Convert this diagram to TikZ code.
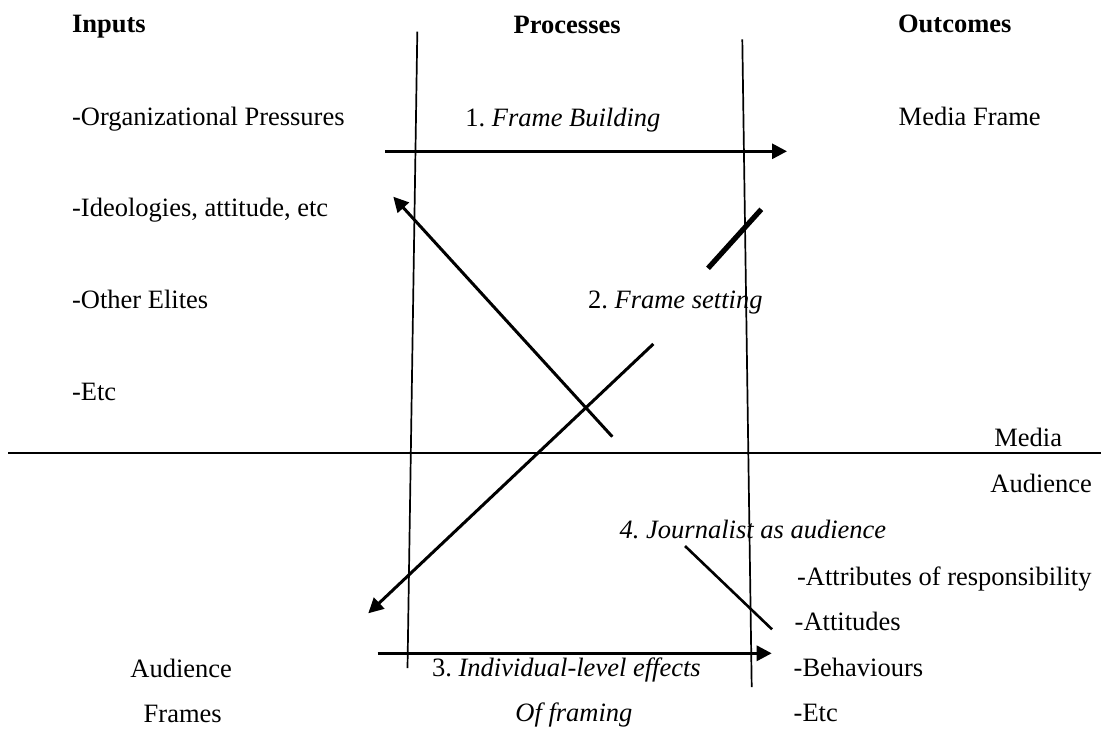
\documentclass[tikz,border=0pt]{standalone}
\usepackage{fontspec}
\setmainfont{Liberation Serif}
\usetikzlibrary{arrows.meta}
\frenchspacing
\begin{document}
\begin{tikzpicture}[x=0.5pt,y=-0.5pt,
  lbl/.style={anchor=base west,inner sep=0pt,font=\fontsize{13.25}{16}\selectfont},
  hd/.style={anchor=base west,inner sep=0pt,font=\fontsize{13.25}{16}\selectfont\bfseries},
  rule/.style={line width=0.85pt},
  arr/.style={line width=1.5pt,-{Triangle[length=7.5pt,width=7.5pt]}},
  bar/.style={line width=2.6pt},
  seg/.style={line width=1.3pt}]
\useasboundingbox (0,0) rectangle (1101,728);
% headings
\node[hd] (inputs) at (71.7,32.7) {Inputs};
\node[hd] (processes) at (513.3,33.3) {Processes};
\node[hd] (outcomes) at (897.7,32.3) {Outcomes};
% inputs
\node[lbl] (org) at (71.7,125) {-Organizational Pressures};
\node[lbl] (ideo) at (71.7,216.7) {-Ideologies, attitude, etc};
\node[lbl] (elites) at (71.7,308.3) {-Other Elites};
\node[lbl] (etc1) at (71.7,400.7) {-Etc};
% processes
\node[lbl] (p1) at (465,126) {1.\ \textit{Frame Building}};
\node[lbl] (p2) at (587.7,308.3) {2.\ \textit{Frame setting}};
\node[lbl] (p4) at (619.3,538.3) {\textit{4.\ Journalist as audience}};
\node[lbl] (p3) at (431.7,676) {3.\ \textit{Individual-level effects}};
\node[lbl] (p3b) at (515,721.7) {\textit{Of framing}};
% outcomes
\node[lbl] (mframe) at (898.3,125) {Media Frame};
\node[lbl] (media) at (994,446.7) {Media};
\node[lbl] (aud) at (990,492.3) {Audience};
\node[lbl] (attr) at (796.7,585) {-Attributes of responsibility};
\node[lbl] (atti) at (794.3,630) {-Attitudes};
\node[lbl] (beh) at (793.3,676.7) {-Behaviours};
\node[lbl] (etc2) at (793.3,721.7) {-Etc};
\node[lbl] (afr1) at (130,677.3) {Audience};
\node[lbl] (afr2) at (143.3,722.7) {Frames};
% coordinates
\coordinate (hl) at (8,452.7);
\coordinate (hr) at (1101,452.7);
\coordinate (lt) at (417.3,31.7);
\coordinate (lb) at (407.5,668);
\coordinate (rt) at (742.3,39.3);
\coordinate (rb) at (751.7,687);
\coordinate (a1s) at (385,151.3);
\coordinate (a1e) at (787,151.3);
\coordinate (a2s) at (612.3,436.7);
\coordinate (a2e) at (393.3,196.7);
\coordinate (b1) at (708,268.3);
\coordinate (b2) at (761.3,209.3);
\coordinate (a3s) at (653.3,344);
\coordinate (a3e) at (368.3,613.3);
\coordinate (s1) at (685,546);
\coordinate (s2) at (772,629.3);
\coordinate (a4s) at (377.7,653.3);
\coordinate (a4e) at (771.7,653.3);
% rules
\draw[rule] (hl) -- (hr);
\draw[rule] (lt) -- (lb);
\draw[rule] (rt) -- (rb);
% arrows
\draw[arr] (a1s) -- (a1e);
\draw[arr] (a2s) -- (a2e);
\draw[bar] (b1) -- (b2);
\draw[arr] (a3s) -- (a3e);
\draw[seg] (s1) -- (s2);
\draw[arr] (a4s) -- (a4e);
\end{tikzpicture}
\end{document}
